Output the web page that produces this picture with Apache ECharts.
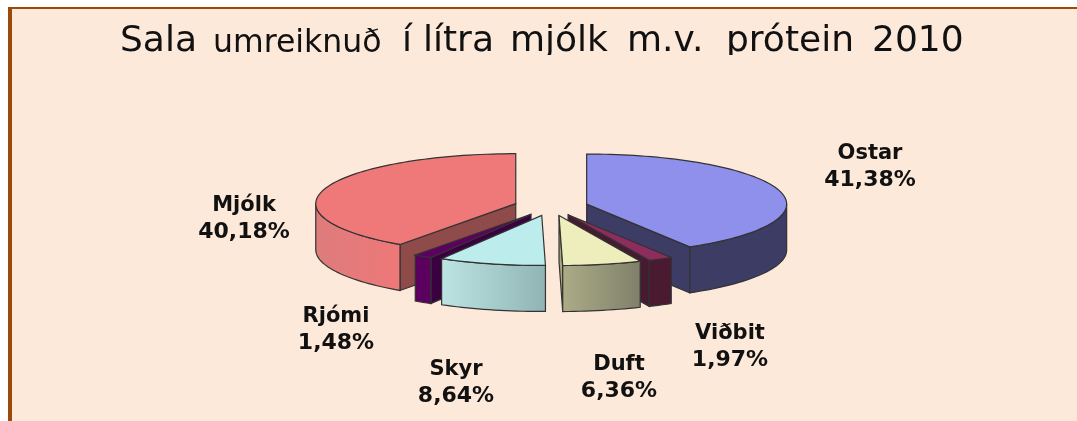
<!DOCTYPE html>
<html>
<head>
<meta charset="utf-8">
<style>
  html, body { margin: 0; padding: 0; background: #fff; }
  #main { width: 1077px; height: 421px; }
</style>
<script src="https://cdn.jsdelivr.net/npm/echarts@6/dist/echarts.min.js"></script>
</head>
<body>
<div id="main"></div>
<script>
const sliceNames = ['Ostar', 'Viðbit', 'Duft', 'Skyr', 'Rjómi', 'Mjólk']
const sliceValues = [41.38, 1.97, 6.36, 8.64, 1.48, 40.18]
const titleWords = ['Sala', 'umreiknuð', 'í', 'lítra', 'mjólk', 'm.v.', 'prótein', '2010']

const topColors = ['#8f8fec', '#8f2c5e', '#eeeebc', '#bcecec', '#5e0060', '#ef7878']
const innerColors = ['#3c3c64', '#461a30', '#a8a880', '#9cc0c0', '#3a0040', '#8f4a4a']
const outerColors = [
  ['#3c3c64', '#3c3c64'],
  ['#4a1a30', '#4a1a30'],
  ['#acac88', '#80806a'],
  ['#bce4e2', '#90b4b4'],
  ['#5c0060', '#5c0060'],
  ['#de7c7c', '#ef7878'],
]
// label centres, one per slice
const labelCenters = [[870, 167], [730, 347], [619, 378], [456, 383], [336, 330], [244, 219]]
// left edge and font size of each title word
const titleLefts = [120, 213, 402, 423, 510, 627, 726, 872]
const titleSizes = [36, 31.5, 36, 36, 36, 36, 36, 36]

const pie = { cx: 551, cy: 206.5, rx: 200, ry: 50, depth: 46, explode: 37 }
const edge = '#333'
const bg = '#fde9da'
const borderColor = '#9c4a0a'

const total = sliceValues.reduce((a, b) => a + b, 0)
const fmt = (v) => v.toFixed(2).replace('.', ',') + '%'

let acc = 0
const slices = sliceValues.map((value, i) => {
  const start = (acc / total) * Math.PI * 2
  acc += value
  const end = (acc / total) * Math.PI * 2
  return { i, start, end, mid: (start + end) / 2 }
})
// back slices first so the front ones cover them
const drawOrder = slices.slice().sort((a, b) => Math.cos(b.mid) - Math.cos(a.mid))

const renderSlice = (params, api) => {
  const i = api.value(0)
  const start = api.value(1)
  const end = api.value(2)
  const mid = (start + end) / 2
  const ax = pie.cx + pie.explode * Math.sin(mid)
  const ay = pie.cy - (pie.explode * pie.ry * Math.cos(mid)) / pie.rx
  const at = (t) => [ax + pie.rx * Math.sin(t), ay - pie.ry * Math.cos(t)]
  const down = (p) => [p[0], p[1] + pie.depth]
  const arc = (a, b) => {
    const n = Math.max(2, Math.ceil((b - a) / 0.03))
    const pts = []
    for (let k = 0; k <= n; k++) pts.push(at(a + ((b - a) * k) / n))
    return pts
  }
  const poly = (points, fill) => ({
    type: 'polygon',
    shape: { points },
    style: { fill, stroke: edge, lineWidth: 1.2 },
  })
  const children = []
  const apex = [ax, ay]

  if (Math.sin(start) < -0.001) {
    const p = at(start)
    children.push(poly([apex, p, down(p), down(apex)], innerColors[i]))
  }
  if (Math.sin(end) > 0.001) {
    const p = at(end)
    children.push(poly([apex, p, down(p), down(apex)], innerColors[i]))
  }
  const a = Math.max(start, Math.PI / 2)
  const b = Math.min(end, (Math.PI * 3) / 2)
  if (b > a) {
    const pts = arc(a, b)
    // gradient runs left to right on screen, arc runs right to left
    children.push(
      poly(pts.concat(pts.slice().reverse().map(down)), {
        type: 'linear', x: 0, y: 0, x2: 1, y2: 0,
        colorStops: [
          { offset: 0, color: outerColors[i][0] },
          { offset: 1, color: outerColors[i][1] },
        ],
      })
    )
  }
  children.push(poly([apex].concat(arc(start, end)), topColors[i]))
  children.push({
    type: 'text',
    style: {
      text: '{n|' + sliceNames[i] + '}\n{v|' + fmt(sliceValues[i]) + '}',
      x: labelCenters[i][0],
      y: labelCenters[i][1],
      align: 'center',
      verticalAlign: 'middle',
      rich: {
        n: { fontFamily: 'DejaVu Sans', fontWeight: 'bold', fontSize: 21, fill: '#111', lineHeight: 26, align: 'center' },
        v: { fontFamily: 'DejaVu Sans', fontWeight: 'bold', fontSize: 22, fill: '#111', lineHeight: 26, align: 'center' },
      },
    },
    z2: 100,
  })
  return { type: 'group', children }
}

const titleGraphics = titleWords.map((word, i) => ({
  type: 'text',
  z: 5,
  style: {
    x: titleLefts[i],
    // all words sit on one baseline
    y: 55 - 0.36 * titleSizes[i],
    verticalAlign: 'middle',
    text: word,
    fill: '#111',
    font: titleSizes[i] + 'px "DejaVu Sans"',
  },
}))

const chart = echarts.init(document.getElementById('main'), null, { renderer: 'canvas' })
chart.setOption({
  animation: false,
  backgroundColor: '#fff',
  graphic: [
    { type: 'rect', z: 0, shape: { x: 8, y: 7, width: 1069, height: 414 }, style: { fill: borderColor } },
    { type: 'rect', z: 0, shape: { x: 12, y: 9, width: 1065, height: 412 }, style: { fill: bg } },
    ...titleGraphics,
    // descenders are cut off in the original
    { type: 'rect', z: 6, shape: { x: 12, y: 55, width: 1065, height: 12 }, style: { fill: bg } },
  ],
  series: [
    {
      type: 'custom',
      coordinateSystem: 'none',
      z: 3,
      silent: true,
      renderItem: renderSlice,
      data: drawOrder.map((s) => [s.i, s.start, s.end]),
    },
  ],
})
</script>
</body>
</html>
